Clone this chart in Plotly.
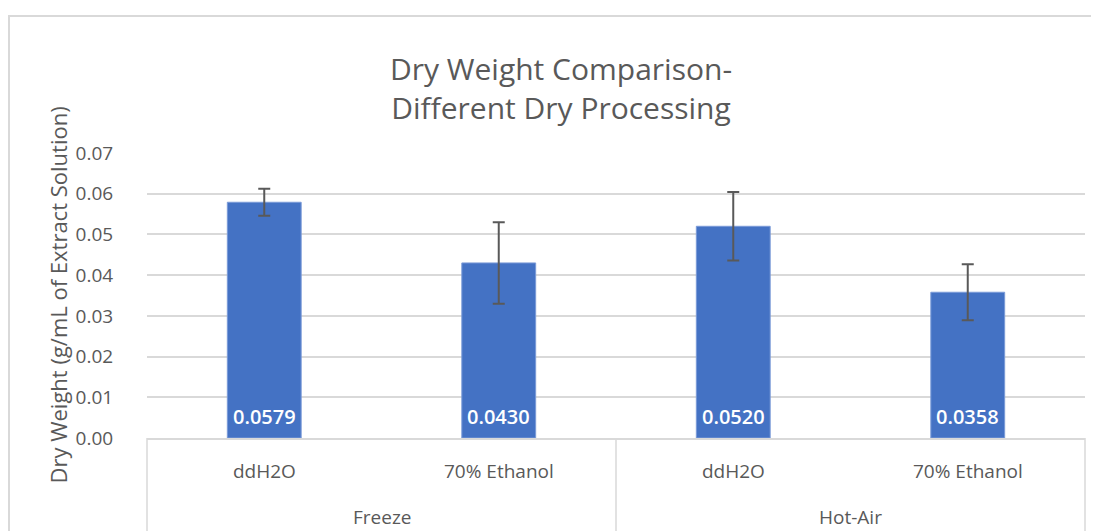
import plotly.graph_objects as go

groups = ["Freeze", "Freeze", "Hot-Air", "Hot-Air"]
solvents = ["ddH2O", "70% Ethanol", "ddH2O", "70% Ethanol"]
dry_weight = [0.0579, 0.0430, 0.0520, 0.0358]
error = [0.0033, 0.0100, 0.0084, 0.0069]
labels = ["0.0579", "0.0430", "0.0520", "0.0358"]
y_ticks = [0.00, 0.01, 0.02, 0.03, 0.04, 0.05, 0.06, 0.07]

FONT = "Open Sans"
GRAY = "#595959"
LINE = "#d9d9d9"

# the page adds an 8px body margin, so the figure is drawn 8px smaller
W, H = 1091, 523
ML, MT = 139, 145
PW, PH = 938.0, 285.0
MR = W - ML - int(PW)
MB = H - MT - int(PH)

fig = go.Figure()
fig.add_trace(go.Bar(
    x=[groups, solvents],
    y=dry_weight,
    marker=dict(color="#4472C4", line=dict(color="#7b9bd8", width=1)),
    error_y=dict(type="data", array=error, visible=True, color=GRAY, thickness=2, width=6),
    width=0.315,
    hoverinfo="y",
))

fig.update_layout(
    width=W, height=H,
    margin=dict(l=ML, r=MR, t=MT, b=MB),
    paper_bgcolor="white", plot_bgcolor="white",
    showlegend=False,
    font=dict(family=FONT, color=GRAY),
    title=dict(
        text="Dry Weight Comparison-<br>Different Dry Processing",
        x=553 / W, xanchor="center", y=1 - 72 / H, yanchor="middle",
        font=dict(size=30, color=GRAY, family=FONT),
    ),
    yaxis=dict(
        range=[0, 0.07], tickvals=y_ticks, tickformat=".2f",
        showgrid=True, gridcolor=LINE, gridwidth=1.5,
        zeroline=False, showline=False,
        ticks="outside", ticklen=29, tickcolor="rgba(0,0,0,0)",
        tickfont=dict(size=19, color=GRAY),
        automargin=False,
    ),
    xaxis=dict(
        type="multicategory",
        showline=True, linecolor=LINE, linewidth=1.5,
        showdividers=False, showticklabels=False, ticks="",
        automargin=False,
    ),
)

annotations = []
# y-axis title
annotations.append(dict(
    text="Dry Weight (g/mL of Extract Solution)", xref="paper", yref="paper",
    x=(57 - 147) / PW, y=0.5, xanchor="center", yanchor="middle", textangle=-90,
    showarrow=False, font=dict(size=22, color=GRAY, family=FONT),
))
# data labels at the bottom of each bar
for i, lab in enumerate(labels):
    annotations.append(dict(
        text=lab, xref="x", yref="y", x=i, y=0, yanchor="middle", yshift=22,
        showarrow=False, font=dict(size=20, color="white", family=FONT, weight=600),
    ))
# subcategory labels
n = len(solvents)
for i, s in enumerate(solvents):
    annotations.append(dict(
        text=s, xref="paper", yref="paper", x=(i + 0.5) / n, y=-(471 - 438) / PH,
        xanchor="center", yanchor="middle", showarrow=False,
        font=dict(size=19, color=GRAY, family=FONT),
    ))
# group labels
uniq = []
for g in groups:
    if g not in uniq:
        uniq.append(g)
for g in uniq:
    idx = [i for i, gg in enumerate(groups) if gg == g]
    xc = (min(idx) + max(idx) + 1) / 2 / n
    annotations.append(dict(
        text=g, xref="paper", yref="paper", x=xc, y=-(517 - 438) / PH,
        xanchor="center", yanchor="middle", showarrow=False,
        font=dict(size=19, color=GRAY, family=FONT),
    ))
fig.update_layout(annotations=annotations)

# group dividers
bounds = [0]
for i in range(1, n):
    if groups[i] != groups[i - 1]:
        bounds.append(i)
bounds.append(n)
for b in bounds:
    fig.add_shape(type="line", xref="paper", yref="paper",
                  x0=b / n, x1=b / n, y0=0, y1=-(MB + 5) / PH,
                  line=dict(color=LINE, width=1.5))

# chart border
fig.add_shape(type="rect", xref="paper", yref="paper",
              x0=(1 - ML) / PW, x1=1.05, y0=-0.5, y1=1 + (MT - 8) / PH,
              line=dict(color=LINE, width=2), fillcolor="rgba(0,0,0,0)", layer="below")

fig.write_html("out.html")
